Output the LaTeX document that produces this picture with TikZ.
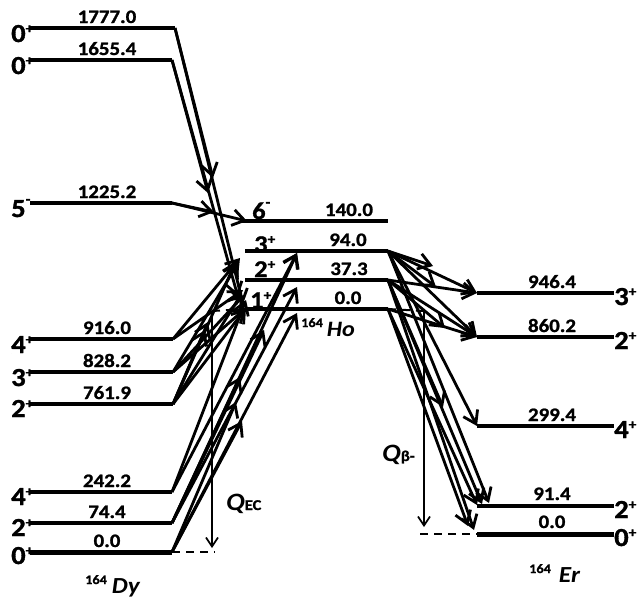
\documentclass[tikz,border=0pt]{standalone}
\usepackage{fontspec}
\setmainfont{Carlito}[FakeStretch=1.1,BoldFeatures={FakeBold=1.2}]
\usetikzlibrary{arrows.meta}
\newcommand{\fs}[1]{\fontsize{#1}{#1}\selectfont}
\newcommand{\spn}[1]{\raisebox{0.7ex}{\fs{14}#1}}
\newcommand{\spm}{\raisebox{1.05ex}{\fs{14}-}}
\begin{document}
\begin{tikzpicture}[x=1pt,y=-1pt,
  lev/.style={line width=3.2pt},
  gnd/.style={line width=5pt},
  tr/.style={line width=2.8pt,-{Straight Barb[length=12pt,width=16pt]}},
  qarr/.style={line width=1.7pt,-{Straight Barb[length=9pt,width=12pt]}},
  dsh/.style={line width=2pt,dash pattern=on 8pt off 6pt},
  en/.style={font=\bfseries\fs{19},inner sep=0pt,anchor=base},
  sp/.style={font=\bfseries\fs{26},inner sep=0pt,anchor=base west},
  nuc/.style={inner sep=0pt,anchor=base west}]
\useasboundingbox (0,0) rectangle (644,598);

% ---------- Dy levels ----------
\foreach \n/\y/\xe in {d1777/28/175,d1655/60/172,d1225/203/172,d916/339/173,d828/372/173,d761/404/173,d242/492/172,d74/523/172}{
  \coordinate (\n s) at (30,\y); \coordinate (\n) at (\xe,\y);
  \draw[lev] (\n s) -- (\n);}
\coordinate (d0s) at (30,552); \coordinate (d0) at (172,552);
\draw[gnd] (d0s) -- (d0);
\coordinate (qecb) at (215,552);
\draw[dsh] (d0) -- (qecb);

\node[en] (ed1) at (107,23) {1777.0};
\node[en] (ed2) at (107,55) {1655.4};
\node[en] (ed3) at (107,198) {1225.2};
\node[en] (ed4) at (107,334) {916.0};
\node[en] (ed5) at (107,367) {828.2};
\node[en] (ed6) at (107,399) {761.9};
\node[en] (ed7) at (107,487) {242.2};
\node[en] (ed8) at (107,518) {74.4};
\node[en] (ed9) at (107,547) {0.0};

\node[sp] (sd1) at (11,42) {0\spn{+}};
\node[sp] (sd2) at (11,74) {0\spn{+}};
\node[sp] (sd3) at (11,217) {5\spm};
\node[sp] (sd4) at (11,353) {4\spn{+}};
\node[sp] (sd5) at (11,386) {3\spn{+}};
\node[sp] (sd6) at (11,417) {2\spn{+}};
\node[sp] (sd7) at (11,505) {4\spn{+}};
\node[sp] (sd8) at (11,536) {2\spn{+}};
\node[sp] (sd9) at (11,564) {0\spn{+}};

\node[nuc] (ndy) at (85,593) {\raisebox{9pt}{\bfseries\fs{13}164}\hspace{5pt}{\bfseries\itshape\fs{23}Dy}};

% ---------- Ho levels ----------
\coordinate (h6s) at (240,221); \coordinate (h6) at (388,221);
\coordinate (h3s) at (245,251); \coordinate (h3) at (388,251);
\coordinate (h2s) at (245,280); \coordinate (h2) at (388,280);
\coordinate (h1s) at (245,309); \coordinate (h1) at (388,309);
\draw[lev] (h6s) -- (h6);
\draw[lev] (h3s) -- (h3);
\draw[lev] (h2s) -- (h2);
\draw[lev] (h1s) -- (h1);
\coordinate (qect) at (212,311); \coordinate (qbt) at (424,311);
\draw[dsh] (qect) -- (h1s);
\draw[dsh] (h1) -- (qbt);

\node[en] (eh1) at (349,216) {140.0};
\node[en] (eh2) at (348,246) {94.0};
\node[en] (eh3) at (349,275) {37.3};
\node[en] (eh4) at (348,304) {0.0};
\node[sp,font=\bfseries\fs{24}] (sh1) at (252,219) {6\spm};
\node[sp,font=\bfseries\fs{24}] (sh2) at (254,252) {3\spn{+}};
\node[sp,font=\bfseries\fs{24}] (sh3) at (254,277) {2\spn{+}};
\node[sp,font=\bfseries\fs{24}] (sh4) at (250,308) {1\spn{+}};
\node[nuc] (nho) at (301,336) {\raisebox{9pt}{\bfseries\fs{13}164}\hspace{4pt}{\bfseries\itshape\fs{22}Ho}};

% ---------- Er levels ----------
\foreach \n/\y in {e946/293,e860/337,e299/426,e91/506}{
  \coordinate (\n) at (477,\y); \coordinate (\n e) at (614,\y);
  \draw[lev] (\n) -- (\n e);}
\coordinate (e0) at (477,534); \coordinate (e0e) at (614,534);
\draw[gnd] (e0) -- (e0e);
\coordinate (qbb) at (420,534);
\draw[dsh] (qbb) -- (e0);

\node[en] (ee1) at (552,288) {946.4};
\node[en] (ee2) at (552,332) {860.2};
\node[en] (ee3) at (552,421) {299.4};
\node[en] (ee4) at (552,500) {91.4};
\node[en] (ee5) at (552,528) {0.0};
\node[sp] (se1) at (614,305) {3\spn{+}};
\node[sp] (se2) at (614,349) {2\spn{+}};
\node[sp] (se3) at (614,438) {4\spn{+}};
\node[sp] (se4) at (614,518) {2\spn{+}};
\node[sp] (se5) at (614,546) {0\spn{+}};
\node[nuc] (ner) at (529,582) {\raisebox{9pt}{\bfseries\fs{13}164}\hspace{8pt}{\bfseries\itshape\fs{23}Er}};

% ---------- Q arrows ----------
\coordinate (qece) at (212,548);
\coordinate (qbe) at (424,527);
\draw[qarr] (qect) -- (qece);
\draw[qarr] (qbt) -- (qbe);
\node[nuc] (lqec) at (226,510) {{\bfseries\itshape\fs{25}Q}{\bfseries\fs{15}EC}};
\node[nuc] (lqb) at (382,461) {{\bfseries\itshape\fs{25}Q}{\bfseries\fs{15}β-}};

% ---------- transitions, left ----------
\coordinate (t1) at (213,178);
\coordinate (t2) at (243,304);
\coordinate (t3) at (208,193);
\coordinate (t4) at (238,297);
\coordinate (t5) at (214,212);
\coordinate (t6) at (247,221);
\draw[tr] (d1777) -- (t1);
\draw[tr] (d1777) -- (t2);
\draw[tr] (d1655) -- (t3);
\draw[tr] (d1655) -- (t4);
\draw[tr] (d1225) -- (t5);
\draw[tr] (d1225) -- (t6);

\coordinate (u1) at (240,258);
\coordinate (u2) at (243,290);
\coordinate (u3) at (238,263);
\coordinate (u4) at (244,295);
\coordinate (u5) at (246,308);
\coordinate (u6) at (236,261);
\coordinate (u7) at (242,293);
\coordinate (u8) at (205,330);
\coordinate (u9) at (208,322);
\draw[tr] (d916) -- (u1);
\draw[tr] (d916) -- (u2);
\draw[tr] (d828) -- (u3);
\draw[tr] (d828) -- (u4);
\draw[tr] (d828) -- (u5);
\draw[tr] (d761) -- (u6);
\draw[tr] (d761) -- (u7);
\draw[tr] (d761) -- (u5);
\draw[tr] (d761) -- (u8);
\draw[tr] (d761) -- (u9);

\coordinate (v1) at (297,253);
\coordinate (v2) at (297,287);
\coordinate (v3) at (297,313);
\coordinate (v4) at (240,377);
\coordinate (v5) at (242,421);
\coordinate (v6) at (246,300);
\coordinate (v7) at (264,330);
\coordinate (v8) at (236,402);
\draw[tr] (d242) -- (v1);
\draw[tr] (d242) -- (v6);
\draw[tr] (d74) -- (v1);
\draw[tr] (d74) -- (v2);
\draw[tr] (d74) -- (v4);
\draw[tr] (d74) -- (v7);
\draw[tr] (d0) -- (v3);
\draw[tr] (d0) -- (v5);
\draw[tr] (d0) -- (v8);

% ---------- transitions, right ----------
\coordinate (w1) at (433,266);
\coordinate (w2) at (436,287);
\coordinate (w3) at (445,328);
\coordinate (w4) at (443,407);
\coordinate (w5) at (489,503);
\coordinate (w6) at (482,504);
\coordinate (w7) at (477,505);
\coordinate (w8) at (474,530);
\coordinate (w9) at (468,526);
\draw[tr] (h3) -- (e946);
\draw[tr] (h3) -- (e860);
\draw[tr] (h3) -- (w1);
\draw[tr] (h3) -- (w2);
\draw[tr] (h3) -- (e299);
\draw[tr] (h3) -- (w5);
\draw[tr] (h2) -- (e946);
\draw[tr] (h2) -- (e860);
\draw[tr] (h2) -- (w3);
\draw[tr] (h2) -- (w4);
\draw[tr] (h2) -- (w6);
\draw[tr] (h2) -- (w8);
\draw[tr] (h1) -- (e860);
\draw[tr] (h1) -- (w7);
\draw[tr] (h1) -- (w9);
\end{tikzpicture}
\end{document}
